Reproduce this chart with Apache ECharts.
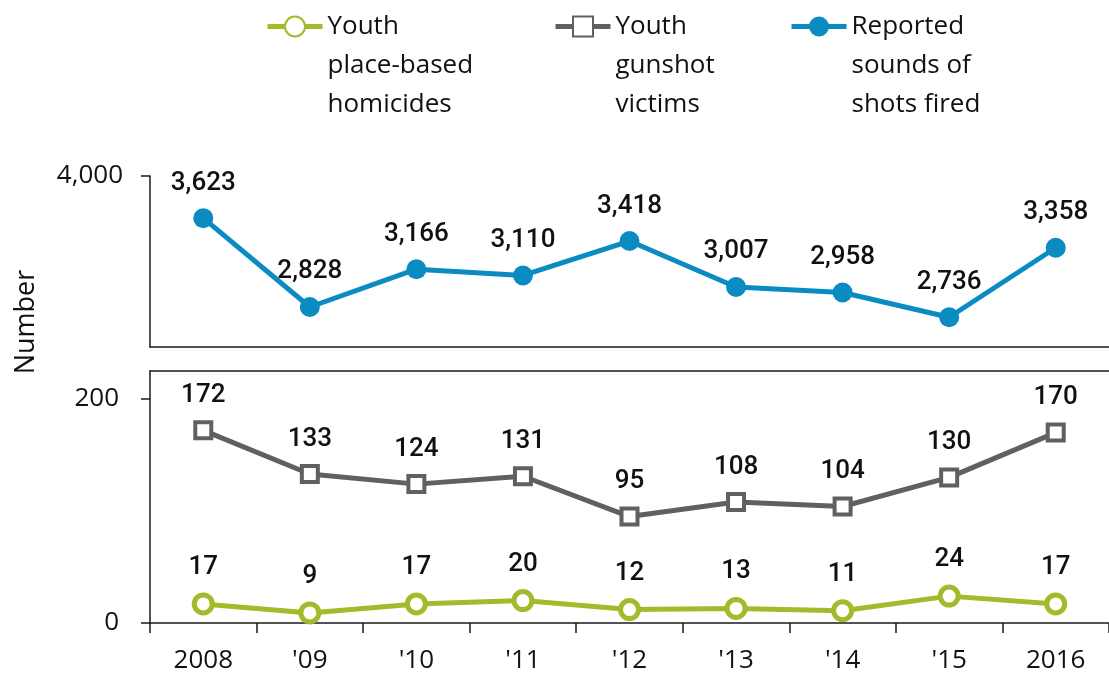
<!DOCTYPE html>
<html>
<head>
<meta charset="utf-8">
<script src="https://cdn.jsdelivr.net/npm/echarts@6/dist/echarts.min.js"></script>
<style>
  html, body { margin: 0; padding: 0; background: #fff; }
  #chart { width: 1109px; height: 677px; }
</style>
</head>
<body>
<div id="chart"></div>
<script>
// data
const years = ['2008', "'09", "'10", "'11", "'12", "'13", "'14", "'15", '2016']
const shotsFired = [3623, 2828, 3166, 3110, 3418, 3007, 2958, 2736, 3358]
const gunshotVictims = [172, 133, 124, 131, 95, 108, 104, 130, 170]
const homicides = [17, 9, 17, 20, 12, 13, 11, 24, 17]

const homicidesName = 'Youth place-based homicides'
const victimsName = 'Youth gunshot victims'
const shotsName = 'Reported sounds of shots fired'
const legendLines = {
  [homicidesName]: ['Youth', 'place-based', 'homicides'],
  [victimsName]: ['Youth', 'gunshot', 'victims'],
  [shotsName]: ['Reported', 'sounds of', 'shots fired'],
}
const topTicks = [4000]
const bottomTicks = [0, 200]

const GREEN = '#a5b92b'
const GREY = '#606060'
const BLUE = '#0a8bc2'
const AXIS = '#1a1a1a'
const TEXT_FONT = '"Open Sans", "Noto Sans", sans-serif'
const LABEL_FONT = 'Roboto, "Liberation Sans", sans-serif'
const LEFT = 150
const LINE_H = 39

const chart = echarts.init(document.getElementById('chart'))

function legendAt(left, name) {
  return {
    data: [name],
    left: left,
    top: -71,
    padding: 0,
    itemWidth: 55,
    itemHeight: 25,
    selectedMode: false,
    lineStyle: { width: 5 },
    // two blank lines in front keep the icon level with the first line
    formatter: (n) => '\n\n' + legendLines[n].join('\n'),
    textStyle: {
      fontFamily: TEXT_FONT,
      fontSize: 26,
      color: '#111',
      lineHeight: LINE_H,
    },
  }
}

const dataLabel = {
  show: true,
  position: 'top',
  distance: 12,
  fontFamily: LABEL_FONT,
  fontSize: 26,
  fontWeight: 500,
  color: '#111',
  formatter: (p) => p.value.toLocaleString('en-US'),
}

const axisText = {
  fontFamily: TEXT_FONT,
  fontSize: 26,
  color: '#111',
}

const option = {
  animation: false,
  legend: [
    legendAt(265, homicidesName),
    legendAt(553, victimsName),
    legendAt(789, shotsName),
  ],
  grid: [
    { left: LEFT, right: 0, top: 176, height: 171 },
    { left: LEFT, right: 0, top: 371, bottom: 54 },
  ],
  xAxis: [
    {
      type: 'category',
      gridIndex: 0,
      data: years,
      boundaryGap: true,
      axisLine: { lineStyle: { color: AXIS, width: 1.5 } },
      axisTick: { show: false },
      axisLabel: { show: false },
    },
    {
      type: 'category',
      gridIndex: 1,
      data: years,
      boundaryGap: true,
      axisLine: { lineStyle: { color: AXIS, width: 1.5 } },
      axisTick: { show: true, length: 10, lineStyle: { color: AXIS, width: 1.5 } },
      axisLabel: Object.assign({ margin: 25 }, axisText),
    },
    {
      // top border of the lower panel
      type: 'category',
      gridIndex: 1,
      position: 'top',
      data: years,
      axisLine: { lineStyle: { color: AXIS, width: 1.5 } },
      axisTick: { show: false },
      axisLabel: { show: false },
    },
  ],
  yAxis: [
    {
      type: 'value',
      gridIndex: 0,
      min: 2470,
      max: 4000,
      splitLine: { show: false },
      axisLine: { show: true, lineStyle: { color: AXIS, width: 1.5 } },
      axisTick: { show: true, length: 9, customValues: topTicks, lineStyle: { color: AXIS, width: 1.5 } },
      axisLabel: Object.assign({
        customValues: topTicks,
        margin: 27,
        formatter: (v) => v.toLocaleString('en-US'),
      }, axisText),
    },
    {
      type: 'value',
      gridIndex: 1,
      min: 0,
      max: 225,
      splitLine: { show: false },
      axisLine: { show: true, lineStyle: { color: AXIS, width: 1.5 } },
      axisTick: { show: true, length: 9, customValues: bottomTicks, lineStyle: { color: AXIS, width: 1.5 } },
      axisLabel: Object.assign({
        customValues: bottomTicks,
        margin: 31,
      }, axisText),
    },
  ],
  graphic: [
    {
      type: 'text',
      x: 26,
      y: 322,
      rotation: Math.PI / 2,
      style: {
        text: 'Number',
        fontFamily: TEXT_FONT,
        fontSize: 27,
        fill: '#111',
        align: 'center',
        verticalAlign: 'middle',
      },
    },
  ],
  series: [
    {
      name: shotsName,
      type: 'line',
      xAxisIndex: 0,
      yAxisIndex: 0,
      data: shotsFired,
      symbol: 'circle',
      symbolSize: 20,
      itemStyle: { color: BLUE },
      lineStyle: { color: BLUE, width: 5 },
      label: dataLabel,
    },
    {
      name: victimsName,
      type: 'line',
      xAxisIndex: 1,
      yAxisIndex: 1,
      data: gunshotVictims,
      symbol: 'rect',
      symbolSize: 16,
      itemStyle: { color: '#fff', borderColor: GREY, borderWidth: 4 },
      lineStyle: { color: GREY, width: 5 },
      label: dataLabel,
    },
    {
      name: homicidesName,
      type: 'line',
      xAxisIndex: 1,
      yAxisIndex: 1,
      data: homicides,
      symbol: 'circle',
      symbolSize: 18,
      itemStyle: { color: '#fff', borderColor: GREEN, borderWidth: 5 },
      lineStyle: { color: GREEN, width: 5 },
      label: dataLabel,
    },
  ],
}

chart.setOption(option)
</script>
</body>
</html>
